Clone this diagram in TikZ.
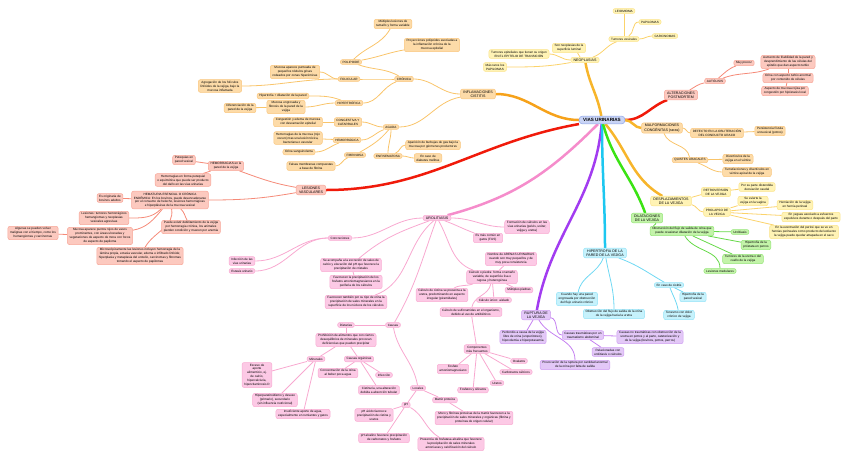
\documentclass[tikz,border=0pt]{standalone}
\usepackage{fontspec}
\setmainfont{Liberation Sans}
\usetikzlibrary{positioning,backgrounds}

\definecolor{rootfill}{HTML}{C9D4F5}
\definecolor{rootdraw}{HTML}{8EA6E8}
\definecolor{yelfill}{HTML}{FFF3B5}
\definecolor{yeldraw}{HTML}{FBE38A}
\definecolor{yelline}{HTML}{FBD36B}
\definecolor{pchfill}{HTML}{FDDBA8}
\definecolor{pchdraw}{HTML}{F9C67E}
\definecolor{pchline}{HTML}{F9C46A}
\definecolor{redfill}{HTML}{FCC9BF}
\definecolor{reddraw}{HTML}{F7A698}
\definecolor{redline}{HTML}{F58A78}
\definecolor{redtrunk}{HTML}{F01A0A}
\definecolor{pnkfill}{HTML}{FCC9E5}
\definecolor{pnkdraw}{HTML}{F8ACD2}
\definecolor{pnkline}{HTML}{F8A8D0}
\definecolor{pnktrunk}{HTML}{F58CCB}
\definecolor{purfill}{HTML}{E3C8F7}
\definecolor{purdraw}{HTML}{CF9FF2}
\definecolor{purline}{HTML}{C480F0}
\definecolor{purtrunk}{HTML}{A23CF0}
\definecolor{cyafill}{HTML}{C6F2FC}
\definecolor{cyadraw}{HTML}{95E3F7}
\definecolor{cyaline}{HTML}{6FD8F3}
\definecolor{cyatrunk}{HTML}{1CC7F0}
\definecolor{grnfill}{HTML}{C3F3A9}
\definecolor{grndraw}{HTML}{96E579}
\definecolor{grnline}{HTML}{66D948}
\definecolor{grntrunk}{HTML}{3BE314}
\definecolor{orgtrunk}{HTML}{F7B52B}
\definecolor{inftrunk}{HTML}{F6A21A}

\begin{document}
\begin{tikzpicture}[x=1pt,y=1pt,
    every node/.style={font=\fontsize{3.1}{3.9}\selectfont,align=center,rounded corners=2pt,inner xsep=2.2pt,inner ysep=1.3pt,line width=0.5pt},
    root node/.style={fill=rootfill,draw=rootdraw,font=\fontsize{4.6}{5.2}\selectfont\bfseries,inner xsep=4pt,inner ysep=2.2pt,rounded corners=3pt},
    branch node/.style={font=\fontsize{3.6}{4.4}\selectfont,inner xsep=2.8pt},
    yellow node/.style={fill=yelfill,draw=yeldraw},
    peach node/.style={fill=pchfill,draw=pchdraw},
    red node/.style={fill=redfill,draw=reddraw},
    pink node/.style={fill=pnkfill,draw=pnkdraw},
    purple node/.style={fill=purfill,draw=purdraw},
    cyan node/.style={fill=cyafill,draw=cyadraw},
    green node/.style={fill=grnfill,draw=grndraw},
    trunk/.style={line width=2.5pt},
    twig/.style={line width=0.8pt}]

    \useasboundingbox (0,0) rectangle (848,-459);

    \node[root node] (root) at (602,-120) {VIAS URINARIAS};

    % neoplasias
    \node[yellow node,branch node] (neo) at (585,-60) {NEOPLASIAS};
    \node[yellow node] (neoTum) at (624,-39) {Tumores vesicales};
    \node[yellow node] (leio) at (624,-11) {LEIOMIOMA};
    \node[yellow node] (papi) at (650,-22) {PAPILOMAS};
    \node[yellow node] (carc) at (665,-36) {CARCINOMAS};
    \node[yellow node] (neoSup) at (569,-48) {Son neoplasias de la\\superficie luminal};
    \node[yellow node] (neoEpi) at (519,-54) {Tumores epiteliales que tienen su origen\\EN EL EPITELIO DE TRANSICIÓN};
    \node[yellow node] (neoRar) at (495,-67) {Más raros los\\PAPILOMAS};

    % inflamaciones
    \node[peach node,branch node] (inf) at (478,-94) {INFLAMACIONES\\CISTITIS};
    \node[peach node] (cro) at (404,-79) {CRÓNICA};
    \node[peach node] (pol) at (351,-62) {POLIPOIDE};
    \node[peach node] (polA) at (393,-24) {Múltiples lesiones de\\tamaño y forma variable};
    \node[peach node] (polB) at (432,-45) {Proyecciones polipoides asociadas a\\la inflamación crónica de la\\mucosa epitelial};
    \node[peach node] (fol) at (349,-79) {FOLICULAR};
    \node[peach node] (folA) at (295,-72) {Mucosa aparece punteada de\\pequeños nódulos grises\\rodeados por zonas hiperémicas};
    \node[peach node] (folB) at (220,-86) {Agregación de los folículos\\linfoides de la vejiga, bajo la\\mucosa inflamada};
    \node[peach node] (hip) at (349,-103) {HIPERTRÓFICA};
    \node[peach node] (hipA) at (283,-96) {Hipertrofia + dilatación de la pared};
    \node[peach node] (hipB) at (286,-107) {Mucosa engrosada y\\fibrosis de la pared de la\\vejiga};
    \node[peach node] (hipC) at (240,-108) {Diferenciación de la\\pared de la vejiga};
    \node[peach node] (agu) at (391,-127) {AGUDA};
    \node[peach node] (con) at (348,-122) {CONGESTIVA Y\\CATARRALES};
    \node[peach node] (conA) at (298,-122) {Congestión y edema de mucosa\\con descamación epitelial};
    \node[peach node] (hem) at (347,-140) {HEMORRÁGICA};
    \node[peach node] (hemA) at (298,-138) {Hemorragias de la mucosa (rojo\\oscuro) tras una lesión tóxica,\\bacteriana o vascular};
    \node[peach node] (hemB) at (299,-152) {Orina sanguinolenta};
    \node[peach node] (fib) at (355,-155) {FIBRINOSA};
    \node[peach node] (fibA) at (311,-166) {Falsas membranas compuestas\\a base de fibrina};
    \node[peach node] (enf) at (388,-156) {ENFISEMATOSA};
    \node[peach node] (enfA) at (433,-145) {Aparición de burbujas de gas bajo la\\mucosa por gérmenes productores};
    \node[peach node] (enfB) at (428,-158) {En caso de\\diabetes mellitus};

    % alteraciones postmortem
    \node[red node,branch node] (alt) at (681,-95) {ALTERACIONES\\POSTMORTEM};
    \node[red node] (aut) at (715,-81) {AUTÓLISIS};
    \node[red node] (muy) at (744,-63) {Muy precoz};
    \node[red node] (autA) at (788,-62) {Aumento de friabilidad de la pared y\\desprendimiento de las células del\\epitelio que dan aspecto turbio};
    \node[red node] (autB) at (788,-78) {Orina con aspecto turbio anormal\\por contenido de células};
    \node[red node] (autC) at (785,-91) {Aspecto de mucosa rojiza por\\congestión por hipóstasis local};

    % lesiones vasculares
    \node[red node,branch node] (les) at (311,-190) {LESIONES\\VASCULARES};
    \node[red node] (hmr) at (226,-166) {HEMORRAGIAS en la\\pared de la vejiga};
    \node[red node] (hmrA) at (184,-160) {Petequias en\\pared vesical};
    \node[red node] (hmrB) at (183,-180) {Hemorragias en forma petequial\\o equimótica que puede ser producto\\del daño en las vías urinarias};
    \node[red node] (hmt) at (170,-200) {HEMATURIA ESENCIAL O CRÓNICA\\ENDÉMICA: En los bovinos, puede desencadenarse\\por el consumo de helecho, lesiones hemorrágicas\\e hiperplásicas de la mucosa vesical};
    \node[red node] (hmtA) at (110,-198) {Es originaria de\\bovinos adultos};
    \node[red node] (hmtB) at (104,-218) {Lesiones: tumores hemorrágicos\\hemangiomas y neoplasias\\vesicales agresivas};
    \node[red node] (hmtC) at (100,-236) {Mucosa aparece puntos rojos de vasos\\prominentes, con áreas ulceradas y\\vegetaciones de aspecto de mora con focos\\de aspecto de papiloma};
    \node[red node] (hmtD) at (33,-233) {Algunas se pueden volver\\malignas con el tiempo, como los\\hemangiomas y carcinomas};
    \node[red node] (hmtE) at (140,-256) {Microscópicamente las lesiones incluyen hemorragia de la\\lámina propia, ectasia vascular, edema e infiltrado linfoide;\\hiperplasia y metaplasia del urotelio, carcinomas y fibromas\\tomando el aspecto de papilomas};
    \node[red node] (hmtF) at (191,-227) {Puede existir debilitamiento de la vejiga\\por hemorragia crónica, los animales\\pierden condición y mueren por anemia};

    % urolitiasis
    \node[pink node,branch node] (uro) at (437,-218) {UROLITIASIS};
    \node[pink node] (uroA) at (527,-227) {Formación de cálculos en las\\vías urinarias (pelvis, uréter,\\vejiga y uretra)};
    \node[pink node] (uroB) at (488,-238) {Es más común en\\gatos (FUS)};
    \node[pink node] (arena) at (511,-259) {Nombre de ARENAS URINARIAS\\cuando son muy pequeños y de\\muy poca consistencia};
    \node[pink node] (calc) at (492,-277) {Cálculo o piedra: forma o tamaño\\variable, de superficie lisa o\\rugosa y heterogénea};
    \node[pink node] (calcA) at (519,-290) {Múltiples piedras};
    \node[pink node] (calcB) at (494,-300) {Cálculo único: aislado};
    \node[pink node] (calcC) at (442,-295) {Cálculo de cistina se presenta a la\\uretra, predominando en aspecto\\irregular (piramidales)};
    \node[pink node] (sulf) at (471,-312) {Cálculo de sulfonamidas en el organismo,\\debido al uso de antibióticos};
    \node[pink node] (conc) at (340,-238) {Concreciones};
    \node[pink node] (concA) at (242,-261) {Infección de las\\vías urinarias};
    \node[pink node] (concB) at (242,-271) {Estasis urinario};
    \node[pink node] (acom) at (351,-265) {Se acompaña a la excreción de sales de\\calcio y elevación del pH que favorece la\\precipitación de cristales};
    \node[pink node] (favA) at (356,-282) {Favorecen la precipitación de los\\fosfatos amoniomagnesianos en la\\periferia de los cálculos};
    \node[pink node] (favB) at (356,-302) {Favorecen también por su tipo de orina la\\precipitación de sales minerales en la\\superficie de los núcleos de los cálculos};
    \node[pink node] (caus) at (393,-325) {Causas};
    \node[pink node] (diet) at (346,-325) {Dietarias};
    \node[pink node] (prohi) at (346,-340) {Prohibición de alimentos que con ciertos\\desequilibrios de minerales provocan\\deficiencias que pueden precipitar};
    \node[pink node] (mine) at (316,-359) {Minerales};
    \node[pink node] (mineA) at (257,-375) {Exceso de\\aporte\\alimenticio, ej.\\de calcio,\\hipercalciuria,\\hipervitaminosis D};
    \node[pink node] (mineB) at (275,-400) {Hiperparatiroidismo y desuso\\(primario), secundario\\(sin influencia nutricional)};
    \node[pink node] (mineC) at (303,-414) {Insuficiente aporte de agua,\\especialmente en rumiantes y gatos};
    \node[pink node] (carg) at (359,-359) {Causas orgánicas};
    \node[pink node] (cargA) at (338,-373) {Concentración de la orina\\al beber poca agua};
    \node[pink node] (cargB) at (384,-375) {Infección};
    \node[pink node] (cargC) at (379,-390) {Cistinuria, una alteración\\debida a absorción tubular};
    \node[pink node] (loc) at (418,-388) {Locales};
    \node[pink node] (ph) at (406,-405) {pH};
    \node[pink node] (phA) at (374,-415) {pH ácido favorece\\precipitación de cistina y\\uratos};
    \node[pink node] (phB) at (384,-438) {pH alcalino favorece precipitación\\de carbonatos y fosfatos};
    \node[pink node] (pres) at (451,-444) {Presencia de fosfatasa alcalina que favorece\\la precipitación de sales minerales\\amoníacas y calcificación del cálculo};
    \node[pink node] (matr) at (445,-400) {Matriz proteica};
    \node[pink node] (mucu) at (474,-418) {Moco y fibrinas proteicas de la matriz favorecen a la\\precipitación de sales minerales y orgánicas (fibrina y\\proteínas de origen celular)};
    \node[pink node] (comp) at (477,-349) {Componentes\\más frecuentes};
    \node[pink node] (compA) at (453,-369) {Fosfato\\amoniomagnesiano};
    \node[pink node] (compB) at (519,-361) {Oxalatos};
    \node[pink node] (compC) at (516,-372) {Carbonatos cálcicos};
    \node[pink node] (compD) at (497,-383) {Uratos};
    \node[pink node] (compE) at (473,-390) {Fosfatos y silicatos};

    % ruptura
    \node[purple node,branch node] (rup) at (536,-315) {RUPTURA DE\\LA VEJIGA};
    \node[purple node] (rupA) at (523,-337) {Peritonitis a causa de la vejiga\\libre de orina (uroperitoneo),\\hipovolemia e hiperpotasemia};
    \node[purple node] (rupB) at (583,-335) {Causas traumáticas por un\\traumatismo abdominal};
    \node[purple node] (rupC) at (608,-352) {Relacionadas con\\urolitiasis o cálculos};
    \node[purple node] (rupD) at (650,-337) {Causas no traumáticas con obstrucción de la\\uretra en potros y al parto, cateterización y\\de la vejiga (bovinos, potros, perros)};
    \node[purple node] (rupE) at (575,-365) {Provocación de la ruptura por cantidad anormal\\de la orina por falta de salida};

    % hipertrofia
    \node[cyan node,branch node] (hpt) at (605,-253) {HIPERTROFIA DE LA\\PARED DE LA VEJIGA};
    \node[cyan node] (hptA) at (577,-299) {Cuando hay una pared\\engrosada por obstrucción\\del flujo urinario crónico};
    \node[cyan node] (hptB) at (614,-314) {Obstrucción del flujo de salida de la orina\\de la vejiga hacia la uretra};
    \node[cyan node] (hptC) at (669,-285) {En caso de cistitis};
    \node[cyan node] (hptD) at (693,-297) {Hipertrofia de la\\pared vesical};
    \node[cyan node] (hptE) at (679,-315) {Tenesmo con dolor\\crónico de vejiga};

    % dilataciones
    \node[green node,branch node] (dil) at (647,-218) {DILATACIONES\\DE LA VEJIGA};
    \node[green node] (dilA) at (682,-231) {Obstrucción del flujo de salida de orina que\\puede ocasionar dilatación de la vejiga};
    \node[green node] (dilB) at (740,-232) {Urolitiasis};
    \node[green node] (dilC) at (756,-245) {Hipertrofia de la\\próstata en perros};
    \node[green node] (dilD) at (743,-259) {Tumores de la uretra o del\\cuello de la vejiga};
    \node[green node] (dilE) at (720,-271) {Lesiones medulares};

    % malformaciones y desplazamientos
    \node[peach node,branch node] (mal) at (662,-128) {MALFORMACIONES\\CONGÉNITAS (raras)};
    \node[peach node] (malA) at (717,-133) {DEFECTO EN LA OBLITERACIÓN\\DEL CONDUCTO URACO};
    \node[peach node] (malB) at (770,-131) {Persistencia fístula\\urovesical (potros)};
    \node[peach node] (qui) at (690,-160) {QUISTES URACALES};
    \node[peach node] (quiA) at (738,-159) {Divertículos de la\\vejiga en el vértice};
    \node[peach node] (quiB) at (747,-172) {Tumefacciones y divertículos en\\vértice apical de la vejiga};
    \node[yellow node,branch node] (des) at (671,-201) {DESPLAZAMIENTOS\\DE LA VEJIGA};
    \node[yellow node] (ret) at (716,-192) {RETROVERSIÓN\\DE LA VEJIGA};
    \node[yellow node] (retA) at (757,-187) {Por su parte distendida\\desviación caudal};
    \node[yellow node] (pro) at (717,-212) {PROLAPSO DE\\LA VEJIGA};
    \node[yellow node] (proA) at (753,-201) {Se evierte la\\vejiga en la vagina};
    \node[yellow node] (proB) at (795,-205) {Herniación de la vejiga\\en hernia perineal};
    \node[yellow node] (proC) at (811,-217) {En yeguas asociado a esfuerzos\\expulsivos durante o después del parto};
    \node[yellow node] (proD) at (804,-232) {En la eventración del periné que se ve en\\hernias perineales como producto del esfuerzo\\la vejiga puede quedar atrapada en el saco};

    \begin{scope}[on background layer]
    % main branches
    \path[trunk,draw=orgtrunk] (root) edge[out=100,in=-80] (neo);
    \path[trunk,draw=inftrunk] (root) edge[out=180,in=0] (inf);
    \path[trunk,draw=redtrunk] (root) edge[out=0,in=200] (alt)
        (root) edge[out=190,in=0] (les);
    \path[trunk,draw=pnktrunk] (root) edge[out=225,in=15] (uro);
    \path[trunk,draw=purtrunk] (root) edge[out=-95,in=80] (rup);
    \path[trunk,draw=cyatrunk] (root) edge[out=-90,in=90] (hpt);
    \path[trunk,draw=grntrunk] (root) edge[out=-75,in=110] (dil);
    \path[trunk,draw=orgtrunk] (root) edge[out=0,in=180] (mal)
        (root) edge[out=-50,in=150] (des);

    \path[twig,draw=yelline] (neo) edge[out=20,in=200] (neoTum)
        (neoTum) edge (leio)
        (neoTum) edge[out=30,in=180] (papi)
        (neoTum) edge[out=0,in=180] (carc)
        (neo) edge[out=150,in=-30] (neoSup)
        (neo) edge[out=180,in=0] (neoEpi)
        (neo) edge[out=190,in=0] (neoRar);

    \path[twig,draw=pchline] (inf) edge[out=180,in=0] (cro)
        (inf) edge[out=190,in=0] (agu)
        (cro) edge[out=150,in=-20] (pol)
        (cro) edge[out=180,in=0] (fol)
        (cro) edge[out=200,in=0] (hip)
        (pol) edge[out=45,in=-120] (polA)
        (pol) edge[out=10,in=190] (polB)
        (fol) edge[out=180,in=0] (folA)
        (fol) edge[out=180,in=0] (folB)
        (hip) edge[out=160,in=0] (hipA)
        (hip) edge[out=180,in=0] (hipB)
        (hipB) edge (hipC)
        (agu) edge[out=180,in=0] (con)
        (agu) edge[out=200,in=0] (hem)
        (agu) edge[out=230,in=30] (fib)
        (agu) edge[out=-90,in=90] (enf)
        (con) edge (conA)
        (hem) edge (hemA)
        (hem) edge[out=200,in=0] (hemB)
        (fib) edge[out=200,in=0] (fibA)
        (enf) edge[out=20,in=180] (enfA)
        (enf) edge[out=0,in=180] (enfB);

    \path[twig,draw=redline] (alt) edge[out=30,in=190] (aut)
        (aut) edge[out=40,in=200] (muy)
        (aut) edge[out=20,in=200] (autA)
        (autA) edge (autB)
        (autB) edge (autC)
        (les) edge[out=170,in=-20] (hmr)
        (les) edge[out=190,in=0] (hmt)
        (hmr) edge (hmrA)
        (hmr) edge (hmrB)
        (hmt) edge (hmtA)
        (hmt) edge[out=225,in=0] (hmtB)
        (hmt) edge[out=230,in=10] (hmtC)
        (hmtC) edge (hmtD)
        (hmt) edge[out=-80,in=60] (hmtE)
        (hmt) edge[out=-40,in=120] (hmtF);

    \path[twig,draw=pnkline] (uro) edge[out=0,in=180] (uroA)
        (uro) edge[out=-20,in=160] (uroB)
        (uro) edge[out=180,in=0] (conc)
        (conc) edge[out=180,in=0] (concA)
        (conc) edge[out=180,in=0] (concB)
        (uro) edge[out=200,in=40] (acom)
        (acom) edge (favA)
        (uro) edge[out=220,in=20] (favB)
        (uro) edge[out=-60,in=160] (calc)
        (arena) edge (calc)
        (calc) edge (calcA)
        (calc) edge (calcB)
        (calc) edge[out=200,in=30] (calcC)
        (calc) edge[out=-100,in=80] (sulf)
        (sulf) edge (comp)
        (comp) edge (compA)
        (comp) edge (compB)
        (comp) edge (compC)
        (comp) edge (compD)
        (comp) edge (compE)
        (uro) edge[out=-110,in=60] (caus)
        (caus) edge (diet)
        (diet) edge (prohi)
        (prohi) edge (mine)
        (prohi) edge (carg)
        (mine) edge (mineA)
        (mine) edge (mineB)
        (mine) edge (mineC)
        (carg) edge (cargA)
        (carg) edge (cargB)
        (carg) edge (cargC)
        (caus) edge[out=-80,in=100] (loc)
        (loc) edge (ph)
        (loc) edge (matr)
        (matr) edge (mucu)
        (ph) edge (phA)
        (ph) edge (phB)
        (ph) edge[out=-30,in=150] (pres);

    \path[twig,draw=purline] (rup) edge (rupA)
        (rup) edge[out=-10,in=180] (rupB)
        (rupB) edge (rupC)
        (rupB) edge (rupD)
        (rup) edge[out=-60,in=90] (rupE);

    \path[twig,draw=cyaline] (hpt) edge[out=-110,in=80] (hptA)
        (hpt) edge[out=-80,in=90] (hptB)
        (hpt) edge[out=-20,in=150] (hptC)
        (hptC) edge (hptD)
        (hptC) edge[out=-70,in=100] (hptE);

    \path[twig,draw=grnline] (dil) edge[out=-30,in=170] (dilA)
        (dilA) edge (dilB)
        (dilA) edge (dilC)
        (dilA) edge (dilD)
        (dilA) edge[out=-60,in=90] (dilE);

    \path[twig,draw=pchline] (mal) edge[out=0,in=180] (malA)
        (malA) edge (malB)
        (mal) edge[out=-70,in=100] (qui)
        (qui) edge (quiA)
        (qui) edge[out=-20,in=180] (quiB);

    \path[twig,draw=yelline] (des) edge[out=10,in=190] (ret)
        (des) edge[out=-10,in=180] (pro)
        (ret) edge (retA)
        (pro) edge (proA)
        (pro) edge (proB)
        (pro) edge (proC)
        (pro) edge (proD);
    \end{scope}

\end{tikzpicture}
\end{document}
